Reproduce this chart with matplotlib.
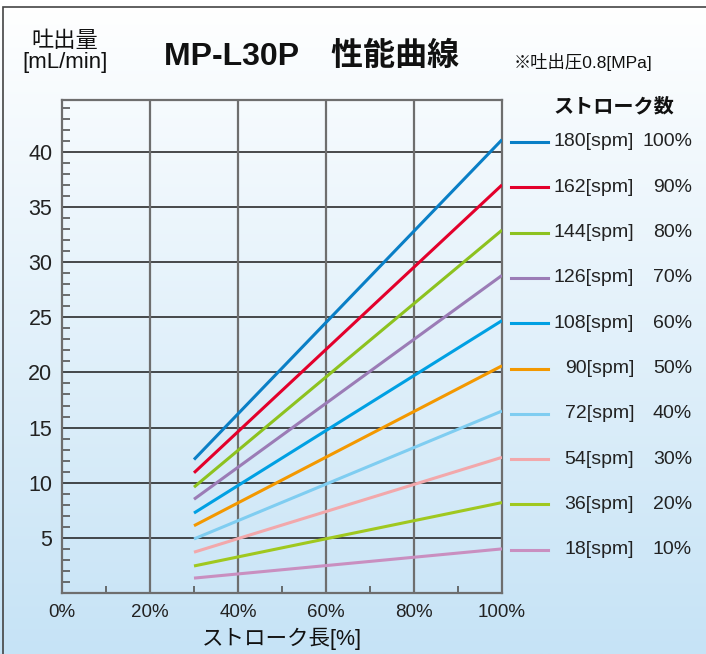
import matplotlib as mpl
mpl.use('Agg')
import matplotlib.pyplot as plt
import numpy as np
from matplotlib.lines import Line2D
from matplotlib.patches import Rectangle
from matplotlib.colors import LinearSegmentedColormap

plt.rcParams['font.family'] = ['Liberation Sans', 'Noto Sans CJK JP', 'DejaVu Sans']

spm = [180, 162, 144, 126, 108, 90, 72, 54, 36, 18]
pct = ['100%', '90%', '80%', '70%', '60%', '50%', '40%', '30%', '20%', '10%']
stroke = [30, 100]
flow_30 = [12.1, 10.9, 9.6, 8.5, 7.25, 6.1, 4.9, 3.7, 2.45, 1.35]
flow_100 = [41.1, 37.0, 32.9, 28.8, 24.7, 20.6, 16.5, 12.3, 8.2, 4.0]
colors = ['#0a7fc6', '#e3002b', '#8dc21f', '#9b7cb6', '#00a0e3', '#f39800',
          '#7fcdf1', '#f2a8ab', '#a0c81f', '#c98fc0']

fig = plt.figure(figsize=(7.06, 6.54), dpi=100)

# background gradient + frame
bg = fig.add_axes([0, 0, 1, 1], zorder=-10)
grad = np.linspace(0, 1, 256).reshape(-1, 1)
cmap = LinearSegmentedColormap.from_list('bg', ['#ffffff', '#c6e3f6'])
bg.imshow(grad, aspect='auto', cmap=cmap, extent=[0, 1, 0, 1], origin='upper')
bg.set_xlim(0, 1)
bg.set_ylim(0, 1)
bg.axis('off')
bg.add_patch(Rectangle((3 / 706, -0.1), 1.1, 1.1 - 7 / 654, fill=False,
                       edgecolor='#444444', linewidth=1.2))

ax = fig.add_axes([62 / 706, 61 / 654, 440 / 706, 493 / 654])
ax.set_facecolor('none')
for i in range(len(spm)):
    ax.plot(stroke, [flow_30[i], flow_100[i]], color=colors[i], linewidth=2.2,
            solid_capstyle='butt', zorder=3)

ax.set_xlim(0, 100)
ax.set_ylim(0, 44.7)
ax.set_xticks([0, 20, 40, 60, 80, 100])
ax.set_xticklabels(['0%', '20%', '40%', '60%', '80%', '100%'])
ax.set_xticks([10, 30, 50, 70, 90], minor=True)
ax.set_yticks([5, 10, 15, 20, 25, 30, 35, 40])
ax.set_yticks(np.arange(1, 45, 1), minor=True)
ax.tick_params(axis='both', which='major', length=0, colors='#222222', pad=7)
ax.tick_params(axis='y', which='major', labelsize=15.5)
ax.tick_params(axis='x', which='major', labelsize=13.5, pad=8)
ax.tick_params(axis='x', which='minor', direction='in', length=5, width=1.2, color='#555555')
ax.tick_params(axis='y', which='minor', direction='in', length=6, width=1.2, color='#555555')
for y in [5, 10, 15, 20, 25, 30, 35, 40]:
    ax.axhline(y, color='#1a1a1a', linewidth=1.1, zorder=1)
for x in [20, 40, 60, 80]:
    ax.axvline(x, color='#6e6e6e', linewidth=1.6, zorder=1)
for s in ax.spines.values():
    s.set_color('#6e6e6e')
    s.set_linewidth(1.6)

ax.set_xlabel('ストローク長[%]', fontsize=15.5, color='#111111', labelpad=5)

fig.text(65 / 706, 1 - 52 / 654, '吐出量\n[mL/min]', ha='center', va='center',
         fontsize=16, color='#111111', linespacing=1.05)
fig.text(312 / 706, 1 - 57 / 654, 'MP-L30P　性能曲線', ha='center', va='center',
         fontsize=23, fontweight='bold', color='#111111')
fig.text(583 / 706, 1 - 62 / 654, '※吐出圧0.8[MPa]', ha='center', va='center',
         fontsize=12.5, color='#111111')

# legend
fig.text(614 / 706, 1 - 107 / 654, 'ストローク数', ha='center', va='center',
         fontsize=14.5, fontweight='bold', color='#111111')
for i in range(len(spm)):
    yy = 1 - (142 + i * 45.3) / 654
    fig.add_artist(Line2D([511 / 706, 548 / 706], [yy, yy], color=colors[i],
                          linewidth=2.2, transform=fig.transFigure))
    fig.text(634 / 706, yy, '%d[spm]' % spm[i], ha='right', va='center',
             fontsize=14, color='#222222')
    fig.text(692 / 706, yy, pct[i], ha='right', va='center',
             fontsize=14, color='#222222')

fig.savefig('out.png', dpi=100)
